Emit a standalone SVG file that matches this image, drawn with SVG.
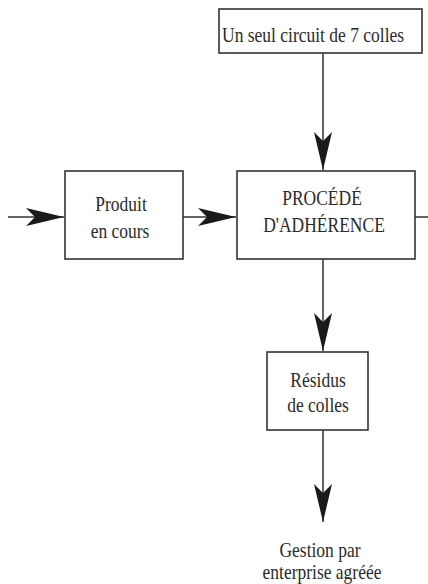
<svg xmlns="http://www.w3.org/2000/svg" width="428" height="584" viewBox="0 0 428 584">
<defs>
<marker id="arr" markerUnits="userSpaceOnUse" markerWidth="44" markerHeight="24" viewBox="-40 -12 44 24" refX="0" refY="0" orient="auto">
<path d="M0,0 L-38,-9 L-29,0 L-38,9 Z" fill="#1a1a1a"/>
</marker>
<style>
.box{fill:#fff;stroke:#333;stroke-width:1.6}
.ln{fill:none;stroke:#333;stroke-width:1.5}
.t{font-family:'Liberation Serif','DejaVu Serif',serif;font-size:17.5px;fill:#2b2b2b}
.c{text-anchor:middle}
</style>
</defs>
<rect width="428" height="584" fill="#fff"/>
<g id="connectors">
<line class="ln" x1="323" y1="53" x2="323" y2="170" marker-end="url(#arr)"/>
<line class="ln" x1="8" y1="217" x2="64" y2="217" marker-end="url(#arr)"/>
<line class="ln" x1="183" y1="217" x2="236" y2="217" marker-end="url(#arr)"/>
<line class="ln" x1="415" y1="217" x2="428" y2="217"/>
<line class="ln" x1="323" y1="259" x2="323" y2="351" marker-end="url(#arr)"/>
<line class="ln" x1="323" y1="430" x2="323" y2="522" marker-end="url(#arr)"/>
</g>
<g id="circuit">
<rect class="box" x="219" y="9" width="203" height="44"/>
<text class="t" transform="translate(222 42) scale(1 1.2)">Un seul circuit de 7 colles</text>
</g>
<g id="produit">
<rect class="box" x="65" y="171" width="118" height="88"/>
<text class="t c" transform="translate(121 211) scale(1 1.2)">Produit</text>
<text class="t c" transform="translate(120 238) scale(1 1.2)">en cours</text>
</g>
<g id="procede">
<rect class="box" x="237" y="171" width="178" height="88"/>
<text class="t c" transform="translate(322 205) scale(1 1.2)">PROCÉDÉ</text>
<text class="t c" transform="translate(324 232) scale(1 1.2)">D'ADHÉRENCE</text>
</g>
<g id="residus">
<rect class="box" x="267" y="352" width="101" height="78"/>
<text class="t c" transform="translate(318 387) scale(1 1.2)">Résidus</text>
<text class="t c" transform="translate(318 412) scale(1 1.2)">de colles</text>
</g>
<g id="gestion">
<text class="t c" transform="translate(320 557) scale(1 1.2)">Gestion par</text>
<text class="t c" transform="translate(322 579) scale(1 1.2)">enterprise agréée</text>
</g>
</svg>
